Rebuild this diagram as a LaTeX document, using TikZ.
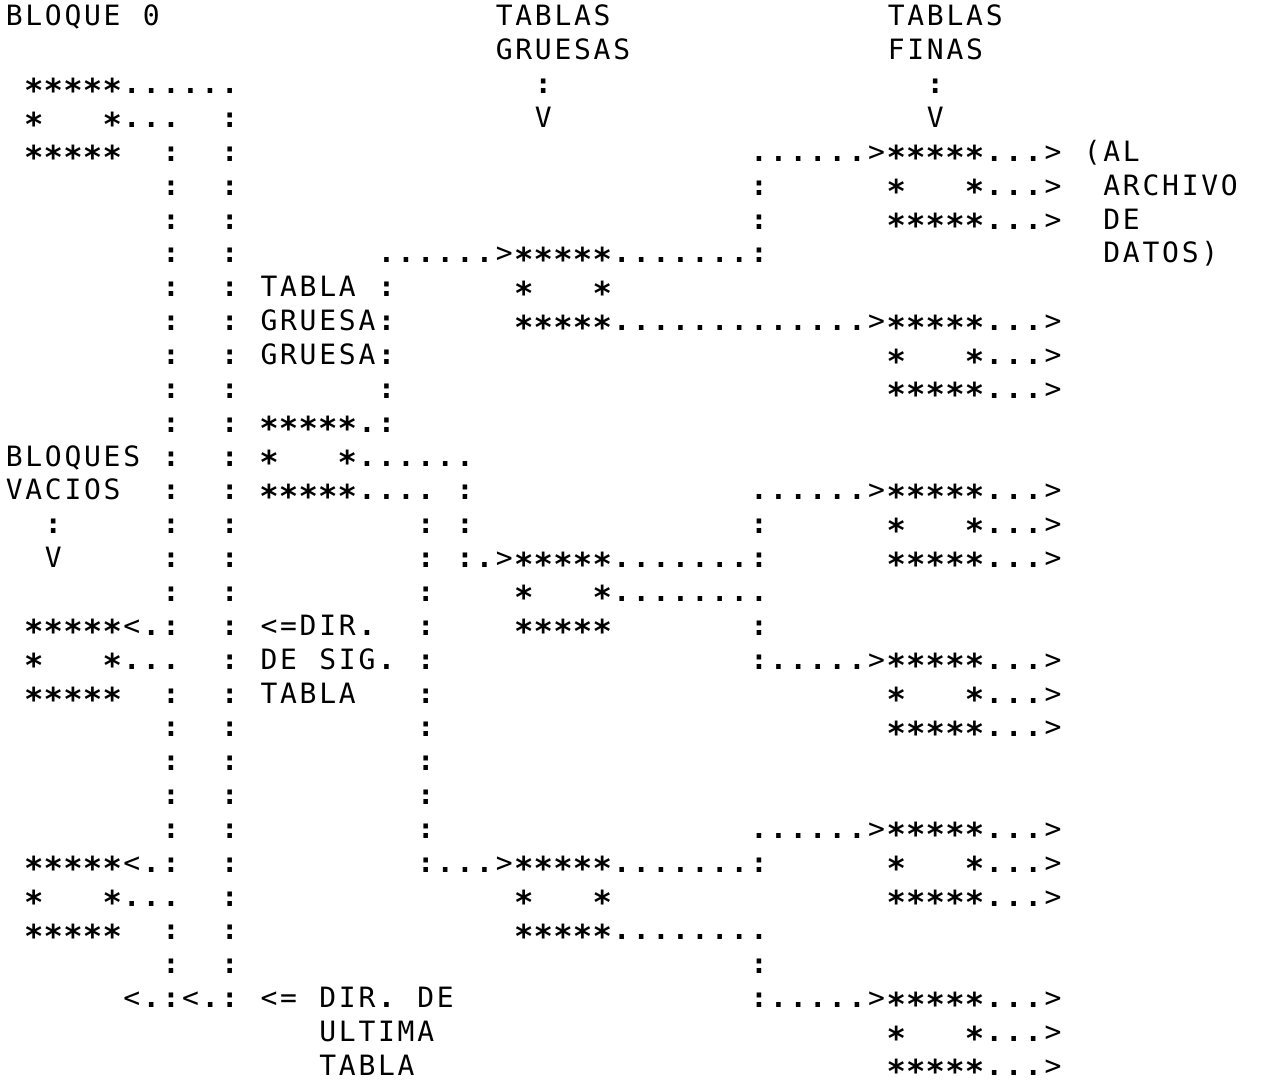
\documentclass[tikz,border=0pt]{standalone}
\usepackage{graphicx}
\usepackage{fontspec}
\newfontfamily\pf{DejaVu Sans Mono}
\newlength\cw \setlength\cw{19.6pt}
% fixed-pitch typesetting of one run of characters; '_' stands for a blank column
\def\mono#1{\monoi#1\relax}
\def\monoi#1{\ifx#1\relax\else\monoch#1\expandafter\monoi\fi}
\def\monoch#1{\ifx#1_\hbox to\cw{\hss}\else\ifx#1*\hbox to\cw{\hss\raisebox{-1.5pt}{\bfseries\scalebox{1.15}{∗}}\hss}\else\ifx#1.\hbox to\cw{\hss\bfseries.\hss}\else\ifx#1:\hbox to\cw{\hss\bfseries:\hss}\else\hbox to\cw{\hss#1\hss}\fi\fi\fi\fi}
\newcommand\R[3]{\node[txt] (r#1c#2) at ({4.2+19.6*#2},{-26-33.85*#1}) {\mono{#3}};}
\begin{document}
\begin{tikzpicture}[x=1pt,y=1pt,
  txt/.style={anchor=base west,inner sep=0pt,font=\pf\fontsize{28}{28}\selectfont}]
\useasboundingbox[fill=white] (0,0) rectangle (1280,-1089);
% rows 0-3
\R{0}{0}{BLOQUE_0}\R{0}{25}{TABLAS}\R{0}{45}{TABLAS}
\R{1}{25}{GRUESAS}\R{1}{45}{FINAS}
\R{2}{1}{*****......}\R{2}{27}{:}\R{2}{47}{:}
\R{3}{1}{*___*...}\R{3}{11}{:}\R{3}{27}{V}\R{3}{47}{V}
% rows 4-7
\R{4}{1}{*****}\R{4}{8}{:}\R{4}{11}{:}\R{4}{38}{......>*****...>}\R{4}{55}{(AL}
\R{5}{8}{:}\R{5}{11}{:}\R{5}{38}{:}\R{5}{45}{*___*...>}\R{5}{56}{ARCHIVO}
\R{6}{8}{:}\R{6}{11}{:}\R{6}{38}{:}\R{6}{45}{*****...>}\R{6}{56}{DE}
\R{7}{8}{:}\R{7}{11}{:}\R{7}{19}{......>*****.......:}\R{7}{56}{DATOS)}
% rows 8-12
\R{8}{8}{:}\R{8}{11}{:}\R{8}{13}{TABLA_:}\R{8}{26}{*___*}
\R{9}{8}{:}\R{9}{11}{:}\R{9}{13}{GRUESA:}\R{9}{26}{*****.............>*****...>}
\R{10}{8}{:}\R{10}{11}{:}\R{10}{13}{GRUESA:}\R{10}{45}{*___*...>}
\R{11}{8}{:}\R{11}{11}{:}\R{11}{19}{:}\R{11}{45}{*****...>}
\R{12}{8}{:}\R{12}{11}{:}\R{12}{13}{*****.:}
% rows 13-17
\R{13}{0}{BLOQUES}\R{13}{8}{:}\R{13}{11}{:}\R{13}{13}{*___*......}
\R{14}{0}{VACIOS}\R{14}{8}{:}\R{14}{11}{:}\R{14}{13}{*****...._:}\R{14}{38}{......>*****...>}
\R{15}{2}{:}\R{15}{8}{:}\R{15}{11}{:}\R{15}{21}{:_:}\R{15}{38}{:}\R{15}{45}{*___*...>}
\R{16}{2}{V}\R{16}{8}{:}\R{16}{11}{:}\R{16}{21}{:_:.>*****.......:}\R{16}{45}{*****...>}
\R{17}{8}{:}\R{17}{11}{:}\R{17}{21}{:}\R{17}{26}{*___*........}
% rows 18-23
\R{18}{1}{*****<.:}\R{18}{11}{:}\R{18}{13}{<=DIR.}\R{18}{21}{:}\R{18}{26}{*****}\R{18}{38}{:}
\R{19}{1}{*___*...}\R{19}{11}{:}\R{19}{13}{DE_SIG.}\R{19}{21}{:}\R{19}{38}{:.....>*****...>}
\R{20}{1}{*****}\R{20}{8}{:}\R{20}{11}{:}\R{20}{13}{TABLA}\R{20}{21}{:}\R{20}{45}{*___*...>}
\R{21}{8}{:}\R{21}{11}{:}\R{21}{21}{:}\R{21}{45}{*****...>}
\R{22}{8}{:}\R{22}{11}{:}\R{22}{21}{:}
\R{23}{8}{:}\R{23}{11}{:}\R{23}{21}{:}
% rows 24-28
\R{24}{8}{:}\R{24}{11}{:}\R{24}{21}{:}\R{24}{38}{......>*****...>}
\R{25}{1}{*****<.:}\R{25}{11}{:}\R{25}{21}{:...>*****.......:}\R{25}{45}{*___*...>}
\R{26}{1}{*___*...}\R{26}{11}{:}\R{26}{26}{*___*}\R{26}{45}{*****...>}
\R{27}{1}{*****}\R{27}{8}{:}\R{27}{11}{:}\R{27}{26}{*****........}
\R{28}{8}{:}\R{28}{11}{:}\R{28}{38}{:}
% rows 29-31
\R{29}{6}{<.:<.:}\R{29}{13}{<=_DIR._DE}\R{29}{38}{:.....>*****...>}
\R{30}{16}{ULTIMA}\R{30}{45}{*___*...>}
\R{31}{16}{TABLA}\R{31}{45}{*****...>}
\end{tikzpicture}
\end{document}
